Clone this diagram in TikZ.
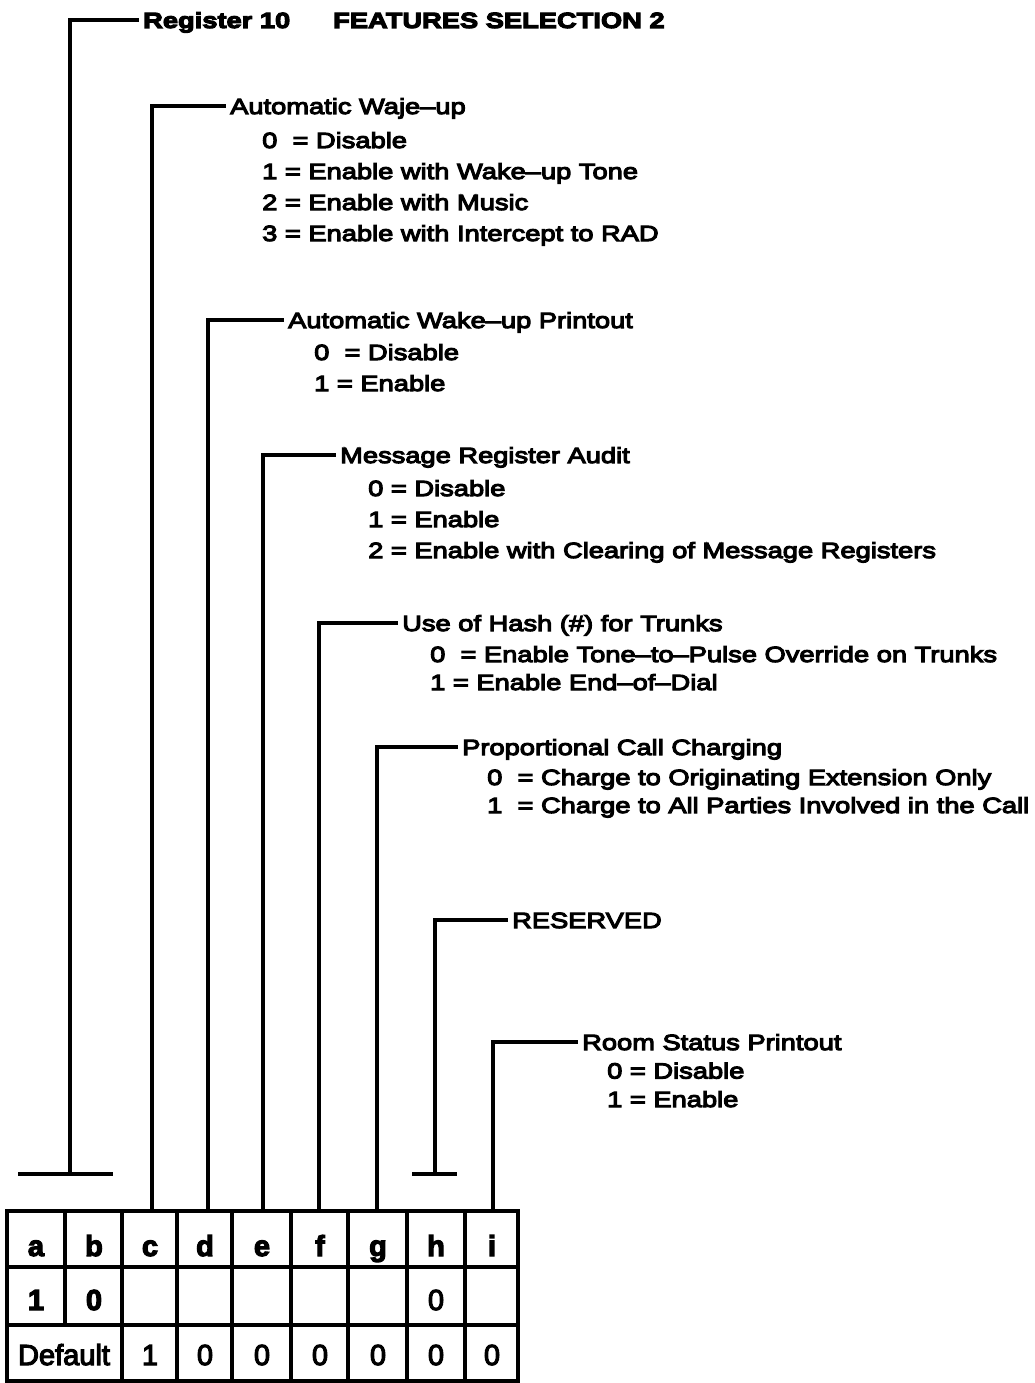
\documentclass[tikz,border=0pt]{standalone}
\usepackage{fontspec}
\setmainfont{Liberation Sans}
\newfontfamily\headfont[FakeStretch=1.24,FakeBold=5]{Liberation Sans}
\newfontfamily\cellfont[FakeBold=4]{Liberation Sans}

\begin{document}
\begin{tikzpicture}[x=1pt,y=-1pt,
        lead/.style={line width=3.2pt},
        grid/.style={line width=3.2pt},
        head/.style={anchor=base west,inner xsep=4pt,inner ysep=0pt,text height=16pt,text depth=0pt,font=\headfont\fontsize{22}{26}\selectfont},
        item/.style={anchor=base west,inner sep=0pt,font=\headfont\fontsize{22}{26}\selectfont},
        title/.style={head,font=\headfont\bfseries\fontsize{22}{26}\selectfont},
        cell/.style={anchor=base,inner sep=0pt,font=\cellfont\fontsize{29}{32}\selectfont},
        bcell/.style={cell,font=\cellfont\bfseries\fontsize{29}{32}\selectfont}]
        \useasboundingbox (0,0) rectangle (1034,1383);
        % table
        \draw[grid] (7,1211) rectangle (518,1381);
        \draw[grid] (7,1267) -- (518,1267) (7,1325) -- (518,1325);
        \draw[grid] (65,1211) -- (65,1325);
        \foreach \x in {122,177,232,291,348,407,465}
            \draw[grid] (\x,1211) -- (\x,1381);
        \foreach \n/\x in {a/36,b/94,c/150,d/205,e/262,f/320,g/378,h/436,i/492}
            \node[bcell] (\n) at (\x,1256) {\n};
        \node[bcell] (aval) at (36,1310) {1};
        \node[bcell] (bval) at (94,1310) {0};
        \node[cell] (hval) at (436,1310) {0};
        \node[cell] (default) at (64,1365) {Default};
        \foreach \n/\x/\v in {c/150/1,d/205/0,e/262/0,f/320/0,g/378/0,h/436/0,i/492/0}
            \node[cell] (def\n) at (\x,1365) {\v};
        % register
        \coordinate (abar) at (70,1174);
        \coordinate (abarl) at (18,1174);
        \coordinate (abarr) at (113,1174);
        \node[title] (reg) at (139,28) {Register 10};
        \node[title] (features) at (329,28) {FEATURES SELECTION 2};
        \draw[lead] (abarl) -- (abarr);
        \draw[lead] (abar) |- (reg.west);
        % automatic wake-up
        \coordinate (ctop) at (152,1211);
        \node[head] (wake) at (226,114) {Automatic Waje–up};
        \foreach \t [count=\k] in {0\ \ = Disable,1 = Enable with Wake–up Tone,2 = Enable with Music,3 = Enable with Intercept to RAD}
            \node[item] (wake\k) at (262,117+31*\k) {\t};
        \draw[lead] (ctop) |- (wake.west);
        % wake-up printout
        \coordinate (dtop) at (208,1211);
        \node[head] (print) at (284,328) {Automatic Wake–up Printout};
        \foreach \t [count=\k] in {0\ \ = Disable,1 = Enable}
            \node[item] (print\k) at (314,329+31*\k) {\t};
        \draw[lead] (dtop) |- (print.west);
        % audit
        \coordinate (etop) at (263,1211);
        \node[head] (audit) at (336,463) {Message Register Audit};
        \foreach \t [count=\k] in {0 = Disable,1 = Enable,2 = Enable with Clearing of Message Registers}
            \node[item] (audit\k) at (368,465+31*\k) {\t};
        \draw[lead] (etop) |- (audit.west);
        % hash
        \coordinate (ftop) at (319,1211);
        \node[head] (hash) at (398,631) {Use of Hash (\#) for Trunks};
        \foreach \t [count=\k] in {0\ \ = Enable Tone–to–Pulse Override on Trunks,1 = Enable End–of–Dial}
            \node[item] (hash\k) at (430,634+28*\k) {\t};
        \draw[lead] (ftop) |- (hash.west);
        % call charging
        \coordinate (gtop) at (377,1211);
        \node[head] (charge) at (458,755) {Proportional Call Charging};
        \foreach \t [count=\k] in {0\ \ = Charge to Originating Extension Only,1\ \ = Charge to All Parties Involved in the Call}
            \node[item] (charge\k) at (487,757+28*\k) {\t};
        \draw[lead] (gtop) |- (charge.west);
        % reserved
        \coordinate (hbar) at (435,1174);
        \coordinate (hbarl) at (412,1174);
        \coordinate (hbarr) at (457,1174);
        \node[head] (reserved) at (508,928) {RESERVED};
        \draw[lead] (hbarl) -- (hbarr);
        \draw[lead] (hbar) |- (reserved.west);
        % room status
        \coordinate (itop) at (493,1211);
        \node[head] (room) at (578,1050) {Room Status Printout};
        \foreach \t [count=\k] in {0 = Disable,1 = Enable}
            \node[item] (room\k) at (607,1050+28.5*\k) {\t};
        \draw[lead] (itop) |- (room.west);
\end{tikzpicture}
\end{document}
